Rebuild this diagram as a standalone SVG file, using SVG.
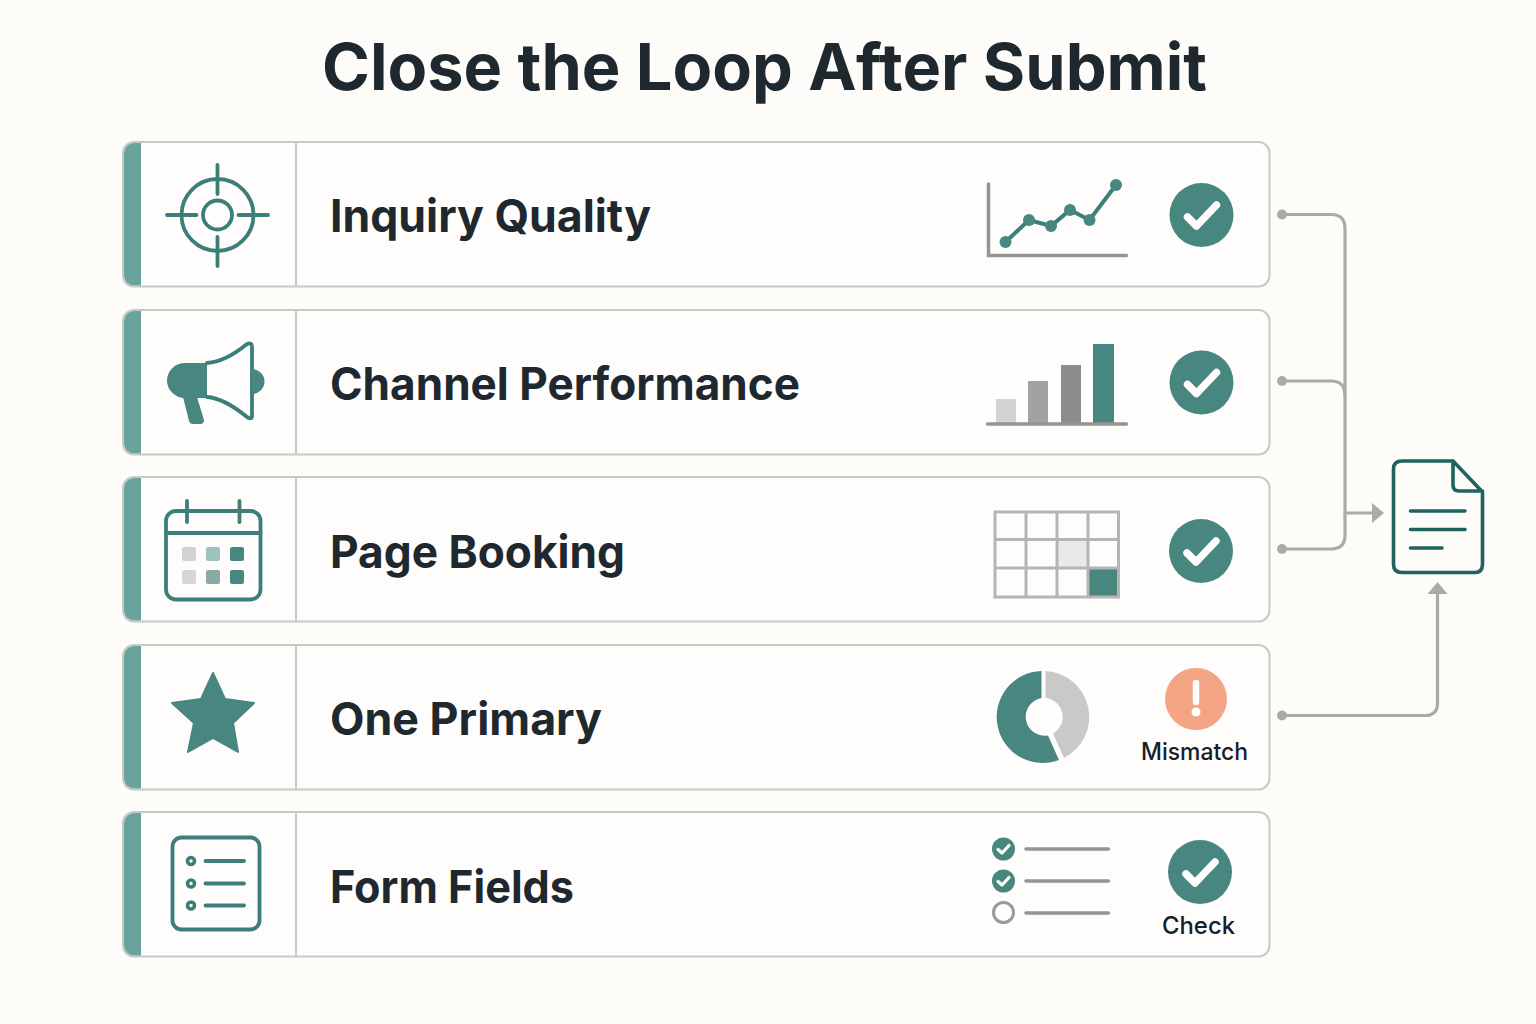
<svg xmlns="http://www.w3.org/2000/svg" width="1536" height="1024" viewBox="0 0 1536 1024">
<style>
.card{fill:#fefdfb;stroke:#c8c8c6;stroke-width:2}
.stripe{fill:#69a39d}
.div{stroke:#c8c8c6;stroke-width:2;fill:none}
.ic{fill:none;stroke:#3c7f7a;stroke-width:3.800;stroke-linecap:round;stroke-linejoin:round}
.tf{fill:#488680}
.lab{font-family:Inter,"Liberation Sans",sans-serif;font-weight:700;font-size:45px;fill:#1f282e}
.small{font-family:Inter,"Liberation Sans",sans-serif;font-weight:500;font-size:24px;fill:#15202a}
.title{font-family:Inter,"Liberation Sans",sans-serif;font-weight:700;font-size:65px;fill:#1f282e}
.ax{fill:none;stroke:#949494;stroke-width:3.500;stroke-linecap:round}
.ck{fill:none;stroke:#fefdfb;stroke-width:7.500;stroke-linecap:round;stroke-linejoin:round}
.ck2{fill:none;stroke:#fefdfb;stroke-width:3.200;stroke-linecap:round;stroke-linejoin:round}
.con{fill:none;stroke:#aaaaa8;stroke-width:3.200;stroke-linecap:round}
.dot{fill:#aaaaa8}
.doc{fill:none;stroke:#1f6360;stroke-width:3.600;stroke-linecap:round;stroke-linejoin:round}
</style>
<defs>
<g id="cardbase">
<rect class="card" x="123" y="0" width="1146.500" height="144.500" rx="11"/>
<path class="stripe" d="M141 1H134A10 10 0 0 0 124 11V133.500A10 10 0 0 0 134 143.500H141Z"/>
<path class="div" d="M296 1V144"/>
</g>
<g id="okmark">
<circle class="tf" r="32"/>
<path class="ck" d="M-14 2L-5 11L15 -10"/>
</g>
</defs>
<rect width="1536" height="1024" fill="#fdfcf8"/>
<text class="title" x="764.500" y="90" text-anchor="middle" textLength="885" lengthAdjust="spacingAndGlyphs">Close the Loop After Submit</text>

<g id="connectors">
<path class="con" d="M1282 214.500H1331Q1345 214.500 1345 228.500V535Q1345 549 1331 549H1282"/>
<path class="con" d="M1282 381H1331Q1345 381 1345 395"/>
<path class="con" d="M1345 513H1372"/>
<path class="con" d="M1282 715.500H1425Q1437.500 715.500 1437.500 703V594"/>
<polygon class="dot" points="1372,503 1384,513 1372,523"/>
<polygon class="dot" points="1437.500,582 1447.500,594 1427.500,594"/>
<circle class="dot" cx="1282" cy="214.500" r="5"/>
<circle class="dot" cx="1282" cy="381" r="5"/>
<circle class="dot" cx="1282" cy="549" r="5"/>
<circle class="dot" cx="1282" cy="715.500" r="5"/>
</g>

<g id="node-inquiry-quality">
<use href="#cardbase" y="142"/>
<circle class="ic" cx="217.500" cy="215" r="36"/>
<circle class="ic" cx="217.500" cy="215" r="14.500"/>
<path class="ic" d="M217.500 165V194M217.500 237V266M167 215H196.500M238.500 215H268"/>
<text class="lab" x="330" y="232" textLength="321" lengthAdjust="spacingAndGlyphs">Inquiry Quality</text>
<path class="ax" d="M988.500 184V255.500H1126.500"/>
<polyline fill="none" stroke="#3c7f7a" stroke-width="4" points="1005.500,242 1029,220 1051,226 1070,210 1089.500,220 1116,185"/>
<g class="tf"><circle cx="1005.500" cy="242" r="6"/><circle cx="1029" cy="220" r="6"/><circle cx="1051" cy="226" r="6"/><circle cx="1070" cy="210" r="6"/><circle cx="1089.500" cy="220" r="6"/><circle cx="1116" cy="185" r="6"/></g>
<use href="#okmark" x="1201.500" y="215"/>
</g>

<g id="node-channel-performance">
<use href="#cardbase" y="310"/>
<path class="tf" d="M207 363H185A18 17.500 0 0 0 185 398H207Z"/>
<path class="ic" d="M207 363C222 362 236 353 247 344Q252 342 252 347V416Q252 420 247 417C236 408 222 398 207 397"/>
<path class="tf" d="M252 369A12 12 0 0 1 252 394Z"/>
<path class="tf" d="M183 397H197L204 420Q204 424 200 424H193Q190 424 189 421Z"/>
<text class="lab" x="330" y="400" textLength="470" lengthAdjust="spacingAndGlyphs">Channel Performance</text>
<rect x="996" y="399" width="20" height="25" fill="#d3d3d1"/>
<rect x="1028" y="381" width="20" height="43" fill="#a2a2a2"/>
<rect x="1061" y="365" width="20" height="59" fill="#8a8c8e"/>
<rect x="1093" y="344" width="21" height="80" fill="#488680"/>
<path class="ax" d="M987.500 424H1126.500"/>
<use href="#okmark" x="1201.500" y="382.500"/>
</g>

<g id="node-page-booking">
<use href="#cardbase" y="477"/>
<rect class="ic" x="166" y="511" width="94.500" height="88.500" rx="10"/>
<path class="ic" d="M166 533H260.500M187 501V522M239.500 501V522"/>
<rect x="182" y="547" width="14" height="14" rx="2" fill="#d2d2d0"/>
<rect x="206" y="547" width="14" height="14" rx="2" fill="#9fc2be"/>
<rect x="230" y="547" width="14" height="14" rx="2" fill="#488680"/>
<rect x="182" y="570" width="14" height="14" rx="2" fill="#d6d6d4"/>
<rect x="206" y="570" width="14" height="14" rx="2" fill="#86aaa6"/>
<rect x="230" y="570" width="14" height="14" rx="2" fill="#488680"/>
<text class="lab" x="330" y="568" textLength="295" lengthAdjust="spacingAndGlyphs">Page Booking</text>
<rect x="1057" y="539" width="31" height="29" fill="#e9e9e7"/>
<rect x="1088" y="568" width="31" height="29" fill="#488680"/>
<path fill="none" stroke="#b5b5b3" stroke-width="3" d="M995 512H1118.500V597H995ZM1026 512V597M1057 512V597M1088 512V597M995 539.500H1118.500M995 568H1118.500"/>
<use href="#okmark" x="1201" y="551"/>
</g>

<g id="node-one-primary">
<use href="#cardbase" y="645"/>
<polygon class="tf" stroke="#488680" stroke-width="2" stroke-linejoin="round" points="213,673 225,699 254,703 233,723 238,752 213,738 188,752 194,723 172,703 201,699"/>
<text class="lab" x="330" y="735" textLength="272" lengthAdjust="spacingAndGlyphs">One Primary</text>
<path class="tf" d="M1041.500 671A46 46 0 1 0 1059 760L1048 735.500A19 19 0 0 1 1041.500 698Z"/>
<path fill="#c9c9c7" d="M1045.500 671A46 46 0 0 1 1064 758L1053 733.500A19 19 0 0 0 1045.500 698Z"/>
<circle cx="1196" cy="699" r="31" fill="#f3a585"/>
<path fill="none" stroke="#fefdfb" stroke-width="6.500" stroke-linecap="round" d="M1196 683V702"/>
<circle cx="1196" cy="712" r="4.500" fill="#fefdfb"/>
<text class="small" x="1194.500" y="760" text-anchor="middle" textLength="107" lengthAdjust="spacingAndGlyphs">Mismatch</text>
</g>

<g id="node-form-fields">
<use href="#cardbase" y="812"/>
<rect class="ic" x="172.500" y="837.500" width="87" height="92" rx="9"/>
<circle cx="191" cy="861" r="3.500" fill="none" stroke="#3c7f7a" stroke-width="3.600"/>
<circle cx="191" cy="883.500" r="3.500" fill="none" stroke="#3c7f7a" stroke-width="3.600"/>
<circle cx="191" cy="905.500" r="3.500" fill="none" stroke="#3c7f7a" stroke-width="3.600"/>
<path class="ic" d="M205.500 861H244M205.500 883.500H244M205.500 905.500H244"/>
<text class="lab" x="330" y="903" textLength="244" lengthAdjust="spacingAndGlyphs">Form Fields</text>
<circle class="tf" cx="1003.500" cy="849" r="11.500"/>
<path class="ck2" d="M998 849.500L1002 853L1009 845.500"/>
<circle class="tf" cx="1003.500" cy="881" r="11.500"/>
<path class="ck2" d="M998 881.500L1002 885L1009 877.500"/>
<circle cx="1003.500" cy="912.500" r="10" fill="none" stroke="#9a9a9a" stroke-width="3"/>
<path class="ax" d="M1026 849H1108.500M1026 881H1108.500M1026 913H1108.500"/>
<use href="#okmark" x="1200" y="872"/>
<text class="small" x="1198.500" y="934" text-anchor="middle" textLength="73" lengthAdjust="spacingAndGlyphs">Check</text>
</g>

<g id="node-document">
<path class="doc" d="M1453 461H1402Q1393.500 461 1393.500 469V564Q1393.500 572.500 1402 572.500H1475Q1482.500 572.500 1482.500 564V492L1453 461V485Q1453 491 1459 491H1482.500"/>
<path class="doc" d="M1410.500 511H1465M1410.500 529.500H1465M1410.500 548H1442"/>
</g>
</svg>
